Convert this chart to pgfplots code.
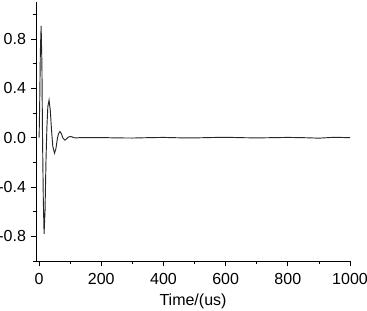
\documentclass[border=0pt]{standalone}
\usepackage{fontspec}
\setmainfont{Liberation Sans}
\usepackage{pgfplots}
\pgfplotsset{compat=1.18}
\begin{document}
\begin{tikzpicture}
\path[use as bounding box] (-27pt,-36.75pt) rectangle (248.25pt,195.75pt);
\begin{axis}[
  at={(0,0)}, anchor=south west,
  scale only axis, width=235.5pt, height=194.25pt,
  xmin=-10, xmax=1000, ymin=-1.0, ymax=1.1,
  axis x line*=bottom, axis y line*=left,
  axis line style={line width=0.6pt, -},
  xtick={0,200,400,600,800,1000},
  minor xtick={100,300,500,700,900},
  ytick={-0.8,-0.4,0,0.4,0.8},
  minor ytick={-1.0,-0.6,-0.2,0.2,0.6,1.0},
  tick align=outside,
  major tick length=4pt, minor tick length=2.5pt,
  tick style={line width=0.5pt, black},
  xticklabel style={/pgf/number format/1000 sep={}, yshift=-2pt},
  yticklabel style={/pgf/number format/fixed, /pgf/number format/fixed zerofill, /pgf/number format/precision=1},
  /pgf/number format/assume math mode=true,
  ticklabel style={font=\fontsize{12}{14}\selectfont},
  xlabel={Time/(us)},
  xlabel style={font=\fontsize{12}{14}\selectfont, yshift=0pt},
  clip=false,
]
\addplot[black!85, line width=0.7pt] coordinates {
(0,0) (2,0.3) (4,0.7) (6.5,0.906) (9,0.6) (11,0.0) (13.5,-0.5) (16,-0.78)
(19,-0.6) (22,-0.2) (25,0.08) (28,0.25) (32,0.305) (36,0.22) (40,0.06)
(44,-0.07) (49.5,-0.126) (54,-0.09) (58,-0.02) (62,0.03) (67,0.05) (72,0.03)
(77,-0.005) (83,-0.02) (88,-0.01) (93,0.003) (100,0.01) (106,0.006) (112,0.0)
(120,-0.002) (130,0) (200,0.001) (250,-0.002) (300,-0.003) (350,0) (400,0.002)
(450,-0.001) (500,-0.002) (550,0.001) (600,0.003) (650,0) (700,-0.002) (750,0)
(800,0.002) (850,0) (900,-0.004) (950,0.003) (1000,0)
};
\end{axis}
\end{tikzpicture}
\end{document}
